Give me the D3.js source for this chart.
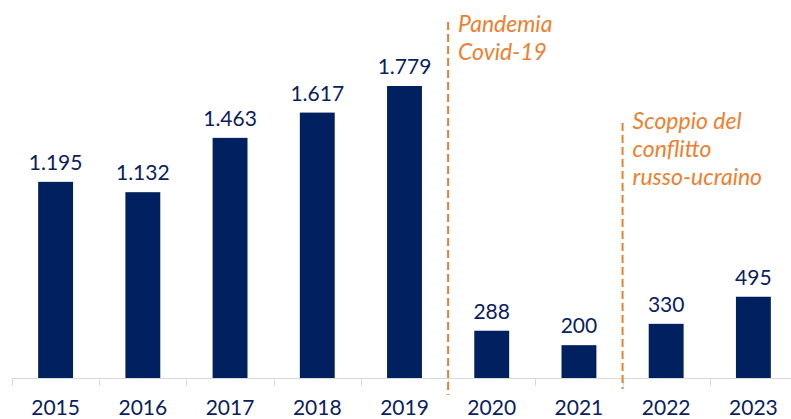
<!DOCTYPE html>
<html lang="it">
<head>
  <meta charset="UTF-8" />
  <title>Serie 2015-2023</title>
  <script src="https://d3js.org/d3.v7.min.js"></script>
  <style>
    body {
      margin: 0;
      background: #fff;
      font-family: Lato, sans-serif;
    }
    .val { fill: #0a2160; font-size: 21px; }
    .year { fill: #0a2160; font-size: 21px; }
    .note { fill: #ee7f2f; font-size: 23px; font-style: italic; }
  </style>
</head>
<body>
<svg id="chart"></svg>

<script>
const years = ["2015", "2016", "2017", "2018", "2019", "2020", "2021", "2022", "2023"];
const values = [1195, 1132, 1463, 1617, 1779, 288, 200, 330, 495];

// annotations: vertical line placed before the given year
const noteBefore = ["2020", "2022"];
const noteLines = [["Pandemia", "Covid-19"], ["Scoppio del", "conflitto", "russo-ucraino"]];
const noteTop = [22, 123];
const noteTextY = [32, 129];
const noteBottom = [395, 389];

const width = 791, height = 419;
const margin = {left: 12, right: -6, top: 86, bottom: 41};

const svg = d3.select("#chart").attr("width", width).attr("height", height);

const it = d3.formatLocale({decimal: ",", thousands: ".", grouping: [3], currency: ["€", ""]});
const fmt = it.format(",d");

const x = d3.scaleBand()
  .domain(years)
  .range([margin.left, width - margin.right])
  .paddingInner(0.6)
  .paddingOuter(0.3);

const y = d3.scaleLinear()
  .domain([0, 1779])
  .range([height - margin.bottom, margin.top]);

const step = x.step();
const gap = (step - x.bandwidth()) / 2;
const baseY = y(0);

// axis line + ticks between categories
svg.append("line")
  .attr("x1", margin.left).attr("x2", width)
  .attr("y1", baseY + 0.5).attr("y2", baseY + 0.5)
  .attr("stroke", "#d9d9d9").attr("stroke-width", 1);

const edges = years.map(d => x(d) - gap).concat([x(years[years.length - 1]) + x.bandwidth() + gap]);
svg.selectAll("line.tick")
  .data(edges)
  .enter().append("line")
  .attr("class", "tick")
  .attr("x1", d => Math.round(d) + 0.5).attr("x2", d => Math.round(d) + 0.5)
  .attr("y1", baseY).attr("y2", baseY + 8)
  .attr("stroke", "#d9d9d9");

svg.selectAll("rect.bar")
  .data(values)
  .enter().append("rect")
  .attr("class", "bar")
  .attr("x", (d, i) => x(years[i]))
  .attr("width", x.bandwidth())
  .attr("y", d => y(d))
  .attr("height", d => baseY - y(d))
  .attr("fill", "#002060");

svg.selectAll("text.val")
  .data(values)
  .enter().append("text")
  .attr("class", "val")
  .attr("text-anchor", "middle")
  .attr("x", (d, i) => x(years[i]) + x.bandwidth() / 2)
  .attr("y", d => y(d) - 12)
  .text(d => fmt(d));

svg.selectAll("text.year")
  .data(years)
  .enter().append("text")
  .attr("class", "year")
  .attr("text-anchor", "middle")
  .attr("x", d => x(d) + x.bandwidth() / 2)
  .attr("y", 415)
  .text(d => d);

noteBefore.forEach((yr, k) => {
  const lx = x(yr) - gap;
  svg.append("line")
    .attr("x1", lx).attr("x2", lx)
    .attr("y1", noteTop[k]).attr("y2", noteBottom[k])
    .attr("stroke", "#ee7f2f")
    .attr("stroke-width", 2)
    .attr("stroke-dasharray", "8,4");
  const t = svg.append("text")
    .attr("class", "note")
    .attr("x", lx + 10)
    .attr("y", noteTextY[k]);
  noteLines[k].forEach((s, j) => {
    t.append("tspan")
      .attr("x", lx + 10)
      .attr("dy", j === 0 ? 0 : 28)
      .text(s);
  });
});
</script>
</body>
</html>
